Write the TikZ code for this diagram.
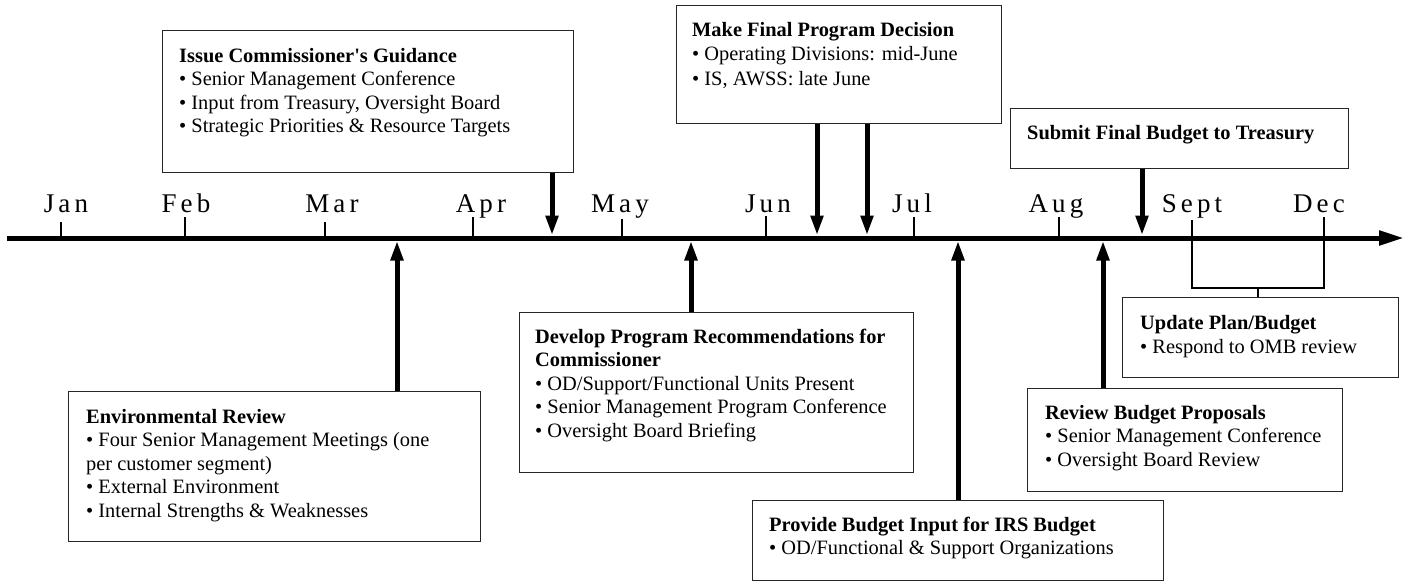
\documentclass[tikz,border=0pt]{standalone}
\usepackage{fontspec}
\newfontfamily\bodyfont{Liberation Serif}
\newfontfamily\monthfont[LetterSpace=15]{Liberation Serif}
\usetikzlibrary{arrows.meta}
\begin{document}
\begin{tikzpicture}[x=1pt,y=-1pt,
  boxst/.style={draw=black!85, line width=1.3pt, fill=white, inner sep=0pt, anchor=north west, rectangle},
  txt/.style={anchor=base west, align=left, inner sep=0pt, font=\bodyfont\fontsize{20.4}{23.5}\selectfont},
  mon/.style={anchor=base, inner sep=0pt, font=\monthfont\fontsize{27}{30}\selectfont},
  tickst/.style={line width=2pt},
  brack/.style={line width=2.4pt},
  evt/.style={line width=5pt, -{Triangle[length=20pt,width=12pt]}},
  axis/.style={line width=5pt, -{Triangle[length=25pt,width=14pt]}}]
\useasboundingbox (0,0) rectangle (1406,582);

% timeline
\coordinate (tl0) at (7,238);
\coordinate (tl1) at (1404,238);
\draw[axis] (tl0) -- (tl1);

% ticks
\coordinate (kJan) at (61,222);   \draw[tickst] (kJan) -- (kJan |- tl0);
\coordinate (kFeb) at (185,217);  \draw[tickst] (kFeb) -- (kFeb |- tl0);
\coordinate (kMar) at (325,222);  \draw[tickst] (kMar) -- (kMar |- tl0);
\coordinate (kApr) at (473,217);  \draw[tickst] (kApr) -- (kApr |- tl0);
\coordinate (kMay) at (622,219);  \draw[tickst] (kMay) -- (kMay |- tl0);
\coordinate (kJun) at (766,216);  \draw[tickst] (kJun) -- (kJun |- tl0);
\coordinate (kJul) at (914,217);  \draw[tickst] (kJul) -- (kJul |- tl0);
\coordinate (kAug) at (1059,217); \draw[tickst] (kAug) -- (kAug |- tl0);
\coordinate (kSep) at (1192,220);
\coordinate (kDec) at (1324,217);
\coordinate (bSep) at (1192,288);
\coordinate (bDec) at (1324,288);
\coordinate (bMid) at (1258,288);
\draw[brack] (kSep) -- (bSep) -- (bDec) -- (kDec);

% month labels
\node[mon] (mJan) at (66,212) {Jan};
\node[mon] (mFeb) at (186,212) {Feb};
\node[mon] (mMar) at (332,212) {Mar};
\node[mon] (mApr) at (481,212) {Apr};
\node[mon] (mMay) at (620,212) {May};
\node[mon] (mJun) at (768,212) {Jun};
\node[mon] (mJul) at (912,212) {Jul};
\node[mon] (mAug) at (1056,212) {Aug};
\node[mon] (mSep) at (1192,212) {Sept};
\node[mon] (mDec) at (1319,212) {Dec};

% boxes
\node[boxst, minimum width=411pt, minimum height=142pt] (issue) at (162,30) {};
\node[boxst, minimum width=325pt, minimum height=118pt] (make) at (676,5) {};
\node[boxst, minimum width=338pt, minimum height=60pt] (submit) at (1010,108) {};
\node[boxst, minimum width=412pt, minimum height=150pt] (env) at (68,391) {};
\node[boxst, minimum width=394pt, minimum height=160pt] (develop) at (519,312) {};
\node[boxst, minimum width=411pt, minimum height=80pt] (provide) at (752,500) {};
\node[boxst, minimum width=315pt, minimum height=103pt] (review) at (1027,388) {};
\node[boxst, minimum width=276pt, minimum height=80pt] (update) at (1122,297) {};

% texts (anchored at the baseline of their last line)
\node[txt] (issueT) at (179,132.5) {\textbf{Issue Commissioner's Guidance}\\
• Senior Management Conference\\
• Input from Treasury, Oversight Board\\
• Strategic Priorities \& Resource Targets};
\node[txt, font=\bodyfont\fontsize{20.4}{24.5}\selectfont] (makeT) at (692,85) {\textbf{Make Final Program Decision}\\
• Operating Divisions: mid-June\\
• IS, AWSS: late June};
\node[txt] (submitT) at (1027,139) {\textbf{Submit Final Budget to Treasury}};
\node[txt] (envT) at (86,517) {\textbf{Environmental Review}\\
• Four Senior Management Meetings (one\\
per customer segment)\\
• External Environment\\
• Internal Strengths \& Weaknesses};
\node[txt] (developT) at (535,437) {\textbf{Develop Program Recommendations for}\\
\textbf{Commissioner}\\
• OD/Support/Functional Units Present\\
• Senior Management Program Conference\\
• Oversight Board Briefing};
\node[txt] (provideT) at (769,554.5) {\textbf{Provide Budget Input for IRS Budget}\\
• OD/Functional \& Support Organizations};
\node[txt] (reviewT) at (1045,466) {\textbf{Review Budget Proposals}\\
• Senior Management Conference\\
• Oversight Board Review};
\node[txt] (updateT) at (1140,353) {\textbf{Update Plan/Budget}\\
• Respond to OMB review};

% event arrows (down)
\coordinate (aIssue) at (552,235.5);
\coordinate (aMake1) at (817,235.5);
\coordinate (aMake2) at (867,235.5);
\coordinate (aSubmit) at (1142,235.5);
\draw[evt] (issue.south -| aIssue) -- (aIssue);
\draw[evt] (make.south -| aMake1) -- (aMake1);
\draw[evt] (make.south -| aMake2) -- (aMake2);
\draw[evt] (submit.south -| aSubmit) -- (aSubmit);

% event arrows (up)
\coordinate (aEnv) at (397,240.5);
\coordinate (aDevelop) at (691,240.5);
\coordinate (aProvide) at (958,240.5);
\coordinate (aReview) at (1103,240.5);
\draw[evt] (env.north -| aEnv) -- (aEnv);
\draw[evt] (develop.north -| aDevelop) -- (aDevelop);
\draw[evt] (provide.north -| aProvide) -- (aProvide);
\draw[evt] (review.north -| aReview) -- (aReview);

% bracket to update box
\draw[brack] (bMid) -- (update.north -| bMid);
\end{tikzpicture}
\end{document}
